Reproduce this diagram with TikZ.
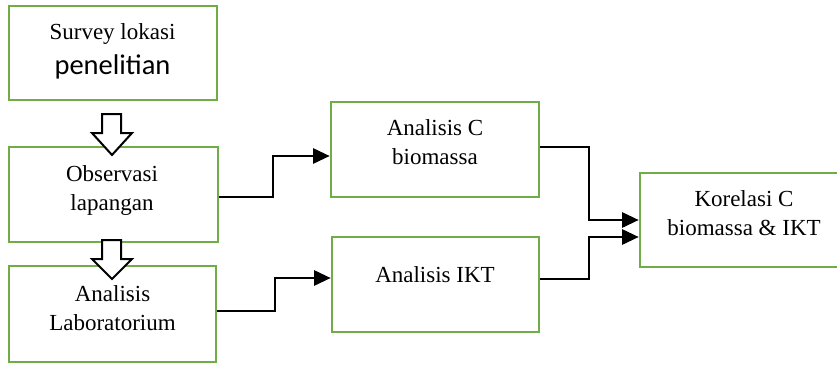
\documentclass[tikz,border=0pt]{standalone}
\usepackage{fontspec}
\setmainfont{Liberation Serif}
\newfontfamily\calib{Carlito}
\usetikzlibrary{arrows.meta,calc}
\definecolor{boxgreen}{HTML}{70AD47}
\begin{document}
\begin{tikzpicture}[x=1pt,y=-1pt,
  box/.style={draw=boxgreen,line width=2.8pt,fill=white,inner sep=0pt,rectangle},
  txt/.style={anchor=base,inner sep=0pt,font=\fontsize{23}{28}\selectfont},
  conn/.style={draw=black,line width=1.1pt,-{Triangle[length=16.5pt,width=15.5pt]}},
  blockarrow/.style={draw=black,line width=2pt,fill=white,line join=miter}]
\clip (0,0) rectangle (837,364);
\fill[white] (0,0) rectangle (837,364);
% boxes
\node[box,minimum width=208pt,minimum height=94pt] (survey) at (113,53) {};
\node[box,minimum width=209pt,minimum height=95pt] (obs) at (113.5,194.5) {};
\node[box,minimum width=207pt,minimum height=96pt] (lab) at (112.5,314) {};
\node[box,minimum width=208pt,minimum height=95pt] (bioC) at (435,149.5) {};
\node[box,minimum width=207pt,minimum height=95pt] (ikt) at (435.5,284.5) {};
\node[box,minimum width=208pt,minimum height=94pt] (kor) at (744,220) {};
% texts
\node[txt] (t1a) at (112.5,39) {Survey lokasi};
\node[txt,font=\calib\fontsize{28.5}{33}\selectfont] (t1b) at (112.5,74) {penelitian};
\node[txt] (t2a) at (112,181) {Observasi};
\node[txt] (t2b) at (112,210) {lapangan};
\node[txt] (t3a) at (112.5,301.5) {Analisis};
\node[txt] (t3b) at (112.5,330) {Laboratorium};
\node[txt] (t4a) at (435,135) {Analisis C};
\node[txt] (t4b) at (435,164) {biomassa};
\node[txt] (t5a) at (435,282) {Analisis IKT};
\node[txt] (t6a) at (744,206) {Korelasi C};
\node[txt] (t6b) at (744,235) {biomassa \& IKT};
% block arrows
\draw[blockarrow] (102,114) -- (121,114) -- (121,133) -- (132,133) -- (112,155) -- (92,133) -- (102,133) -- cycle;
\draw[blockarrow] (102,240) -- (121,240) -- (121,259) -- (132,259) -- (112,279) -- (92,259) -- (102,259) -- cycle;
% connectors
\coordinate (m1) at (273,0);
\coordinate (m2) at (275,0);
\coordinate (m3) at (589,0);
\draw[conn] ($(obs.east)+(0,2.5)$) -| (m1 |- {$(bioC.west)+(0,6.5)$}) -- ($(bioC.west)+(0,6.5)$);
\draw[conn] ($(lab.east)+(0,-3)$) -| (m2 |- {$(ikt.west)+(0,-6.5)$}) -- ($(ikt.west)+(0,-6.5)$);
\draw[conn] ($(bioC.east)+(0,-2.5)$) -| (m3 |- kor.west) -- (kor.west);
\draw[conn] ($(ikt.east)+(0,-5.5)$) -| (m3 |- {$(kor.west)+(0,17)$}) -- ($(kor.west)+(0,17)$);
\end{tikzpicture}
\end{document}
